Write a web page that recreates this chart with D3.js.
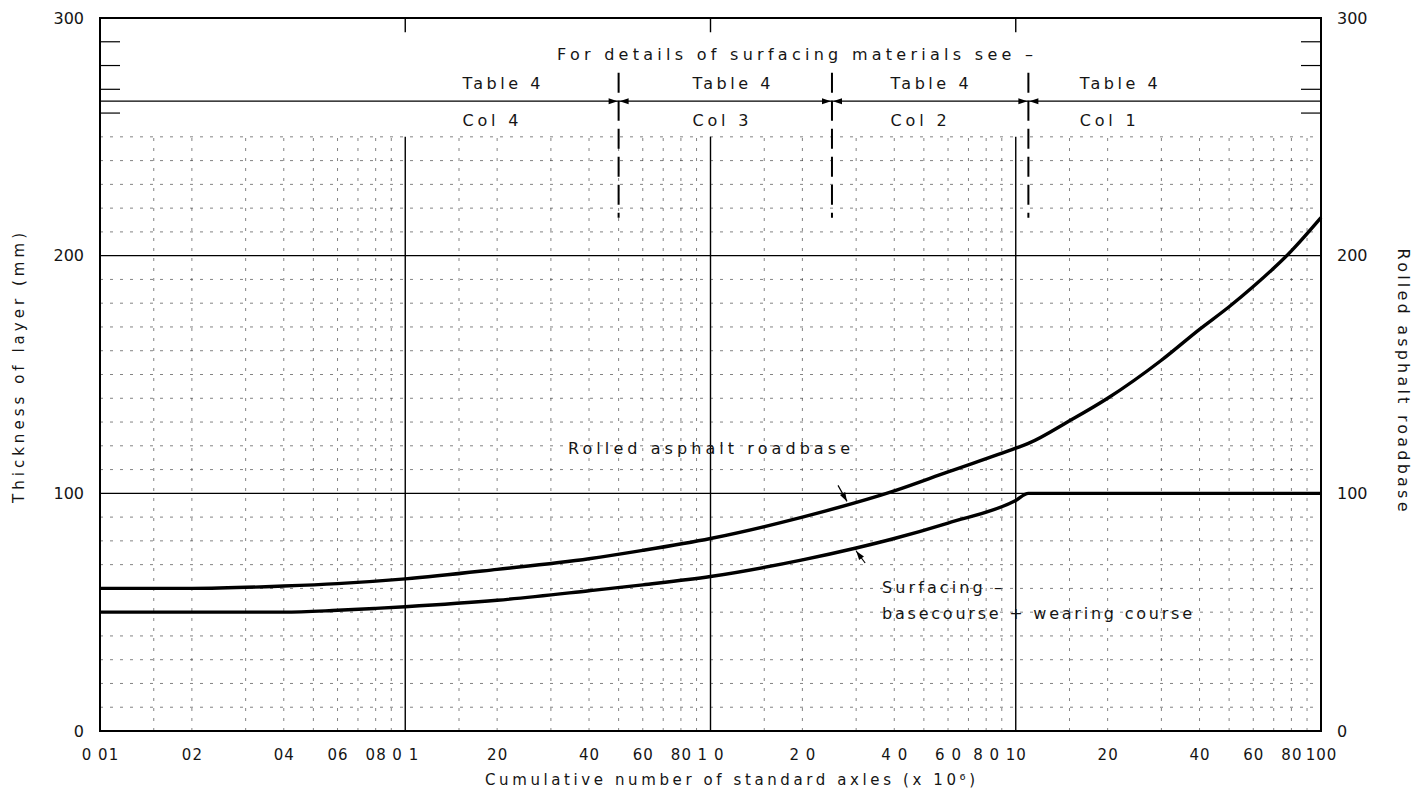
<!DOCTYPE html>
<html><head><meta charset="utf-8">
<script src="https://cdn.jsdelivr.net/npm/d3@7"></script>
<style>
body{margin:0;background:#fff}
svg{display:block}
text{font-family:"DejaVu Sans",sans-serif;fill:#151515}
</style>
</head><body>
<svg id="c" width="1416" height="793"></svg>
<script>
// ---- data ----
const roadbaseX = [0.01,0.02,0.04,0.06,0.1,0.2,0.4,0.6,1,2,4,6,10,11,15,20,30,40,50,60,80,100];
const roadbaseY = [60,60,61,62,64,68,72.5,76,81,90,101,109,119,121,130.5,140,156,169,178.5,187,202,216];
const surfacingX = [0.01,0.02,0.04,0.06,0.08,0.1,0.2,0.4,0.6,1,2,3,4,6,10,11,20,50,100];
const surfacingY = [50,50,50,50.8,51.6,52.3,55,59,61.5,65,72,77,81,87.5,97,100,100,100,100];

const xTickValues = [0.01,0.02,0.04,0.06,0.08,0.1,0.2,0.4,0.6,0.8,1,2,4,6,8,10,20,40,60,80,100];
const xTickLabels = ["0 01","02","04","06","08","0 1","20","40","60","80","1 0","2 0","4 0","6 0","8 0","10","20","40","60","80","100"];
const yTickValues = [0,100,200,300];
const yTickLabels = ["0","100","200","300"];

const decades = [0.01,0.1,1,10];
const minorMultipliers = [1.5,2,3,4,5,6,7,8,9];
const minorY = d3.range(10,260,10).filter(v => v % 100 !== 0);
const bandTicks = [260,270,280,290];

const dividerX = [0.5,2.5,11];
const tableLabels = ["Table 4","Table 4","Table 4","Table 4"];
const colLabels = ["Col 4","Col 3","Col 2","Col 1"];
const labelX = [0.154,0.873,3.89,16.2];

// ---- layout ----
const mL = 100, mR = 1321, mT = 18, mB = 731;
const svg = d3.select("#c");
const x = d3.scaleLog().domain([0.01,100]).range([mL,mR]);
const y = d3.scaleLinear().domain([0,300]).range([mB,mT]);

const g = svg.append("g");

// minor grid
const gridStyle = s => s.attr("stroke","#333").attr("stroke-width",1).attr("stroke-dasharray","3,7").attr("opacity",0.6);
g.selectAll(".mh").data(minorY).join("line")
  .attr("x1",mL).attr("x2",mR).attr("y1",d=>y(d)).attr("y2",d=>y(d)).call(gridStyle);
const minorXs = [];
decades.forEach(d => minorMultipliers.forEach(m => minorXs.push(d*m)));
g.selectAll(".mv").data(minorXs.filter(v=>v<100)).join("line")
  .attr("x1",d=>x(d)).attr("x2",d=>x(d)).attr("y1",y(0)).attr("y2",y(250)).call(gridStyle);

// major grid
g.selectAll(".Mh").data([100,200]).join("line")
  .attr("x1",mL).attr("x2",mR).attr("y1",d=>y(d)).attr("y2",d=>y(d))
  .attr("stroke","#000").attr("stroke-width",1.4);
g.selectAll(".Mv").data([0.1,1,10]).join("line")
  .attr("x1",d=>x(d)).attr("x2",d=>x(d)).attr("y1",y(0)).attr("y2",y(250))
  .attr("stroke","#000").attr("stroke-width",1.4);
g.selectAll(".Mt").data([0.1,1,10]).join("line")
  .attr("x1",d=>x(d)).attr("x2",d=>x(d)).attr("y1",y(300)).attr("y2",y(294))
  .attr("stroke","#000").attr("stroke-width",1.4);

// band line
g.append("line").attr("x1",mL).attr("x2",mR).attr("y1",y(265)).attr("y2",y(265))
  .attr("stroke","#000").attr("stroke-width",1.2);
g.selectAll(".bl").data(bandTicks).join("line")
  .attr("x1",mL).attr("x2",mL+20).attr("y1",d=>y(d)).attr("y2",d=>y(d))
  .attr("stroke","#000").attr("stroke-width",1.2);
g.selectAll(".br").data(bandTicks).join("line")
  .attr("x1",mR-20).attr("x2",mR).attr("y1",d=>y(d)).attr("y2",d=>y(d))
  .attr("stroke","#000").attr("stroke-width",1.2);

// border
g.append("rect").attr("x",mL).attr("y",mT).attr("width",mR-mL).attr("height",mB-mT)
  .attr("fill","none").attr("stroke","#000").attr("stroke-width",2);

// dividers
g.selectAll(".dv").data(dividerX).join("line")
  .attr("x1",d=>x(d)).attr("x2",d=>x(d)).attr("y1",y(277)).attr("y2",y(216))
  .attr("stroke","#000").attr("stroke-width",2).attr("stroke-dasharray","20,8");
dividerX.forEach(d => {
  const cx = x(d), cy = y(265);
  g.append("path").attr("d",`M${cx-1},${cy} l-9,-3 l0,6 Z`).attr("fill","#000");
  g.append("path").attr("d",`M${cx+1},${cy} l9,-3 l0,6 Z`).attr("fill","#000");
});

// curves
const line = d3.line().x(d=>x(d[0])).y(d=>y(d[1])).curve(d3.curveMonotoneX);
const roadbase = roadbaseX.map((v,i)=>[v,roadbaseY[i]]);
const surfacing = surfacingX.map((v,i)=>[v,surfacingY[i]]);
g.append("path").attr("d",line(roadbase)).attr("fill","none").attr("stroke","#000").attr("stroke-width",3.4);
g.append("path").attr("d",line(surfacing)).attr("fill","none").attr("stroke","#000").attr("stroke-width",3.4);

function interp(xs,ys,v){
  for(let i=1;i<xs.length;i++){
    if(v<=xs[i]){const t=(Math.log(v)-Math.log(xs[i-1]))/(Math.log(xs[i])-Math.log(xs[i-1]));return ys[i-1]+t*(ys[i]-ys[i-1]);}
  }
  return ys[ys.length-1];
}
function arrow(tx,ty,dx,dy){
  const len=Math.hypot(dx,dy), ux=dx/len, uy=dy/len;
  g.append("line").attr("x1",tx+dx).attr("y1",ty+dy).attr("x2",tx).attr("y2",ty).attr("stroke","#000").attr("stroke-width",1.2);
  const px=-uy, py=ux;
  g.append("path").attr("d",`M${tx},${ty} L${tx+ux*9+px*3},${ty+uy*9+py*3} L${tx+ux*9-px*3},${ty+uy*9-py*3} Z`).attr("fill","#000");
}
const a1 = 2.8, a2 = 3.0;
arrow(x(a1), y(interp(roadbaseX,roadbaseY,a1))-3, -9, -16);
arrow(x(a2), y(interp(surfacingX,surfacingY,a2))+3, 9, 12);

// annotations
function txt(s,px,py,len,size,anchor){
  const t = g.append("text").attr("x",px).attr("y",py).attr("font-size",size||16)
    .attr("text-anchor",anchor||"start").text(s);
  if(len) t.attr("textLength",len).attr("lengthAdjust","spacing");
  return t;
}
txt("For details of surfacing materials see \u2013", 557, y(285)+6, 476, 16);
tableLabels.forEach((s,i)=>txt(s, x(labelX[i]), y(272.6)+6, 78, 16));
colLabels.forEach((s,i)=>txt(s, x(labelX[i]), y(257)+6, 56, 16));
txt("Rolled asphalt roadbase", 568, 454, 282, 16);
txt("Surfacing \u2013", 882, 593, 120, 16);
txt("basecourse + wearing course", 882, 619, 310, 16);

// axes
const xAxis = d3.axisBottom(x).tickValues(xTickValues).tickFormat((d,i)=>xTickLabels[i]).tickSize(0).tickPadding(18);
const xa = svg.append("g").attr("transform",`translate(0,${mB})`).call(xAxis);
xa.select(".domain").remove();
xa.selectAll("text").attr("font-size",15).attr("font-family","DejaVu Sans").attr("fill","#222").attr("letter-spacing",1);

const yAxisL = d3.axisLeft(y).tickValues(yTickValues).tickFormat((d,i)=>yTickLabels[i]).tickSize(0).tickPadding(16);
const yl = svg.append("g").attr("transform",`translate(${mL},0)`).call(yAxisL);
yl.select(".domain").remove();
yl.selectAll("text").attr("font-size",16).attr("font-family","DejaVu Sans").attr("fill","#222");

const yAxisR = d3.axisRight(y).tickValues(yTickValues).tickFormat((d,i)=>yTickLabels[i]).tickSize(0).tickPadding(16);
const yr = svg.append("g").attr("transform",`translate(${mR},0)`).call(yAxisR);
yr.select(".domain").remove();
yr.selectAll("text").attr("font-size",16).attr("font-family","DejaVu Sans").attr("fill","#222");

// axis titles
svg.append("text").attr("x",730).attr("y",785).attr("text-anchor","middle").attr("font-size",15)
  .attr("textLength",490).attr("lengthAdjust","spacing")
  .text("Cumulative number of standard axles (x 10\u2076)");
svg.append("text").attr("transform","translate(24,368) rotate(-90)").attr("text-anchor","middle").attr("font-size",15)
  .attr("textLength",270).attr("lengthAdjust","spacing")
  .text("Thickness of layer (mm)");
svg.append("text").attr("transform","translate(1398,380) rotate(90)").attr("text-anchor","middle").attr("font-size",16)
  .attr("textLength",263).attr("lengthAdjust","spacing")
  .text("Rolled asphalt roadbase");
</script>
</body></html>
